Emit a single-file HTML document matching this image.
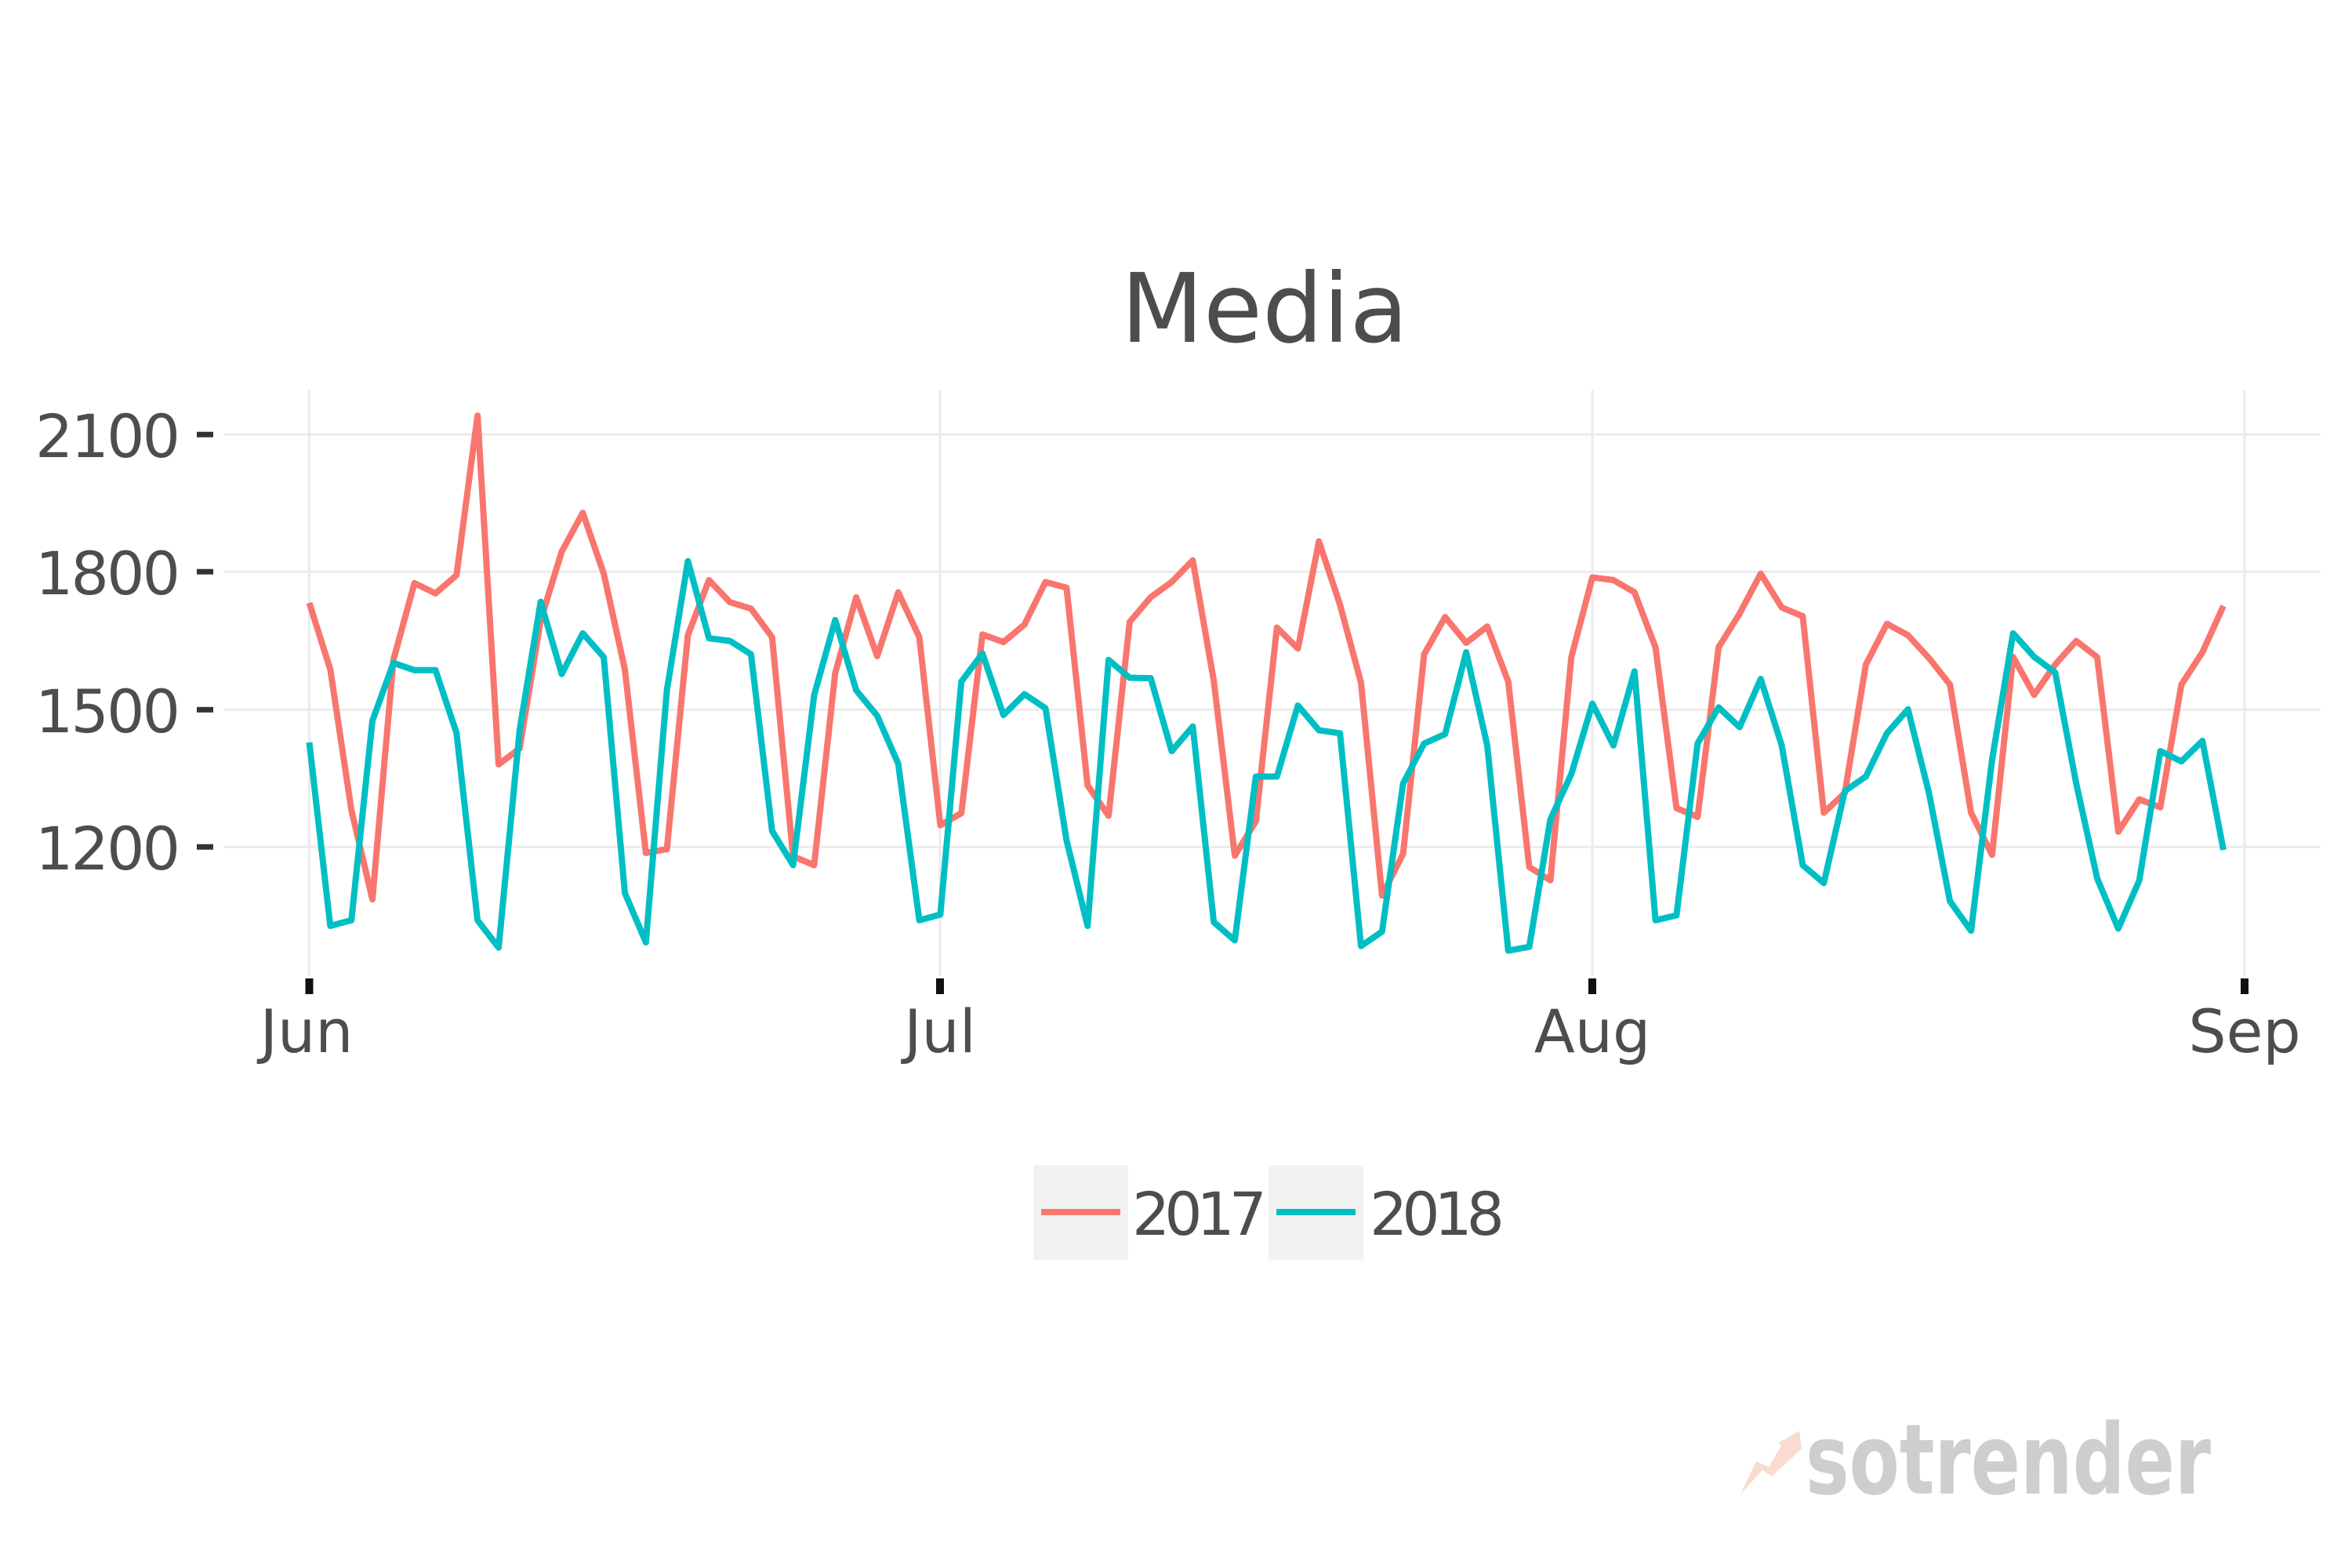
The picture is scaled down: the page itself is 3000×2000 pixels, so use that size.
<!DOCTYPE html>
<html><head><meta charset="utf-8"><style>
html,body{margin:0;padding:0;background:#fff;}
svg{display:block;}
text{font-family:"DejaVu Sans","Liberation Sans",sans-serif;fill:#4d4d4d;}
</style></head><body>
<svg id="c" width="3000" height="2000" viewBox="0 0 3000 2000" xmlns="http://www.w3.org/2000/svg">
<rect width="3000" height="2000" fill="#fff"/>
<g stroke="#ebebeb" stroke-width="3">
<line x1="285" x2="2960" y1="554.3" y2="554.3"/>
<line x1="285" x2="2960" y1="729.3" y2="729.3"/>
<line x1="285" x2="2960" y1="905.2" y2="905.2"/>
<line x1="285" x2="2960" y1="1080.2" y2="1080.2"/>
<line x1="394.5" x2="394.5" y1="498" y2="1245"/>
<line x1="1199" x2="1199" y1="498" y2="1245"/>
<line x1="2031" x2="2031" y1="498" y2="1245"/>
<line x1="2863" x2="2863" y1="498" y2="1245"/>
</g>
<g stroke="#333" stroke-width="7">
<line x1="251" x2="272" y1="554.3" y2="554.3"/>
<line x1="251" x2="272" y1="729.3" y2="729.3"/>
<line x1="251" x2="272" y1="905.2" y2="905.2"/>
<line x1="251" x2="272" y1="1080.2" y2="1080.2"/>
</g>
<g stroke="#111" stroke-width="10">
<line x1="394.5" x2="394.5" y1="1248" y2="1268"/>
<line x1="1199" x2="1199" y1="1248" y2="1268"/>
<line x1="2031" x2="2031" y1="1248" y2="1268"/>
<line x1="2863" x2="2863" y1="1248" y2="1268"/>
</g>
<g font-size="76" text-anchor="end">
<text x="230" y="583" textLength="185">2100</text>
<text x="230" y="758" textLength="185">1800</text>
<text x="230" y="934" textLength="185">1500</text>
<text x="230" y="1109" textLength="185">1200</text>
</g>
<g font-size="76" text-anchor="middle">
<text x="391" y="1342">Jun</text>
<text x="1199" y="1342">Jul</text>
<text x="2031" y="1342">Aug</text>
<text x="2863" y="1342">Sep</text>
</g>
<text x="1613" y="436" font-size="122" text-anchor="middle">Media</text>
<polyline id="r" fill="none" stroke="#F8766D" stroke-width="8" stroke-linejoin="round"/>
<polyline id="t" fill="none" stroke="#00BFC4" stroke-width="8" stroke-linejoin="round"/>
<rect x="1318" y="1486" width="121" height="121" fill="#f2f2f2"/>
<rect x="1618" y="1486" width="121" height="121" fill="#f2f2f2"/>
<line x1="1328" x2="1429" y1="1546" y2="1546" stroke="#F8766D" stroke-width="8"/>
<line x1="1628" x2="1729" y1="1546" y2="1546" stroke="#00BFC4" stroke-width="8"/>
<text x="1444" y="1575" font-size="76" textLength="172">2017</text>
<text x="1747" y="1575" font-size="76" textLength="172">2018</text>
<polygon points="2220,1906 2240,1864 2256,1871 2272,1844 2269,1840 2295,1825 2298,1848 2260,1883 2248,1875" fill="#f9dccf"/>
<text x="2303" y="1905" font-size="124" font-weight="bold" textLength="517" lengthAdjust="spacingAndGlyphs" style="fill:#cdcecd;font-family:'DejaVu Sans',sans-serif;">sotrender</text>
</svg>
<script>
var R=[555,730,1100,1335,705,503,530,482,62,980,938,600,420,318,478,730,1213,1203,640,495,553,570,645,1222,1245,740,540,695,527,645,1140,
1108,638,658,612,500,515,1035,1115,605,540,500,443,760,1220,1130,620,675,393,560,765,1325,1215,690,592,660,617,762,1250,1285,697,488,
495,527,672,1095,1118,672,583,478,567,590,1107,1055,717,610,640,700,770,1107,1218,697,797,717,655,698,1157,1072,1093,770,685,563];
var T=[922,1405,1390,865,713,732,732,897,1390,1462,890,552,742,635,698,1318,1448,785,445,648,655,690,1155,1245,798,600,785,852,978,1390,1375,
762,688,850,795,832,1180,1405,705,752,753,945,880,1395,1443,1012,1012,825,890,898,1458,1420,1030,925,900,685,930,1470,1460,1125,1005,820,
930,735,1390,1377,925,830,882,755,930,1245,1292,1050,1012,898,835,1055,1340,1418,968,635,697,738,1030,1280,1412,1285,945,972,918,1205];
function pts(a){return a.map(function(z,i){return (394.5+i*26.83).toFixed(1)+','+(500+z/2.063).toFixed(1);}).join(' ');}
document.getElementById('r').setAttribute('points',pts(R));
document.getElementById('t').setAttribute('points',pts(T));
</script>
</body></html>
